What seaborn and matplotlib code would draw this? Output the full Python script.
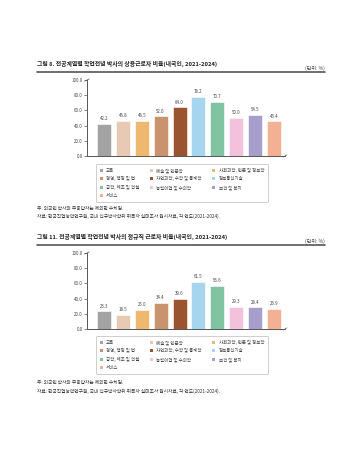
import matplotlib
matplotlib.use("Agg")
import matplotlib.pyplot as plt
import seaborn as sns
import pandas as pd
from matplotlib.patches import Patch

sns.set_style("white")
plt.rcParams['font.family'] = ['Noto Sans CJK KR', 'DejaVu Sans']

categories = ["교육", "예술 및 인문학", "사회과학, 언론 및 정보학", "경영, 행정 및 법",
              "자연과학, 수학 및 통계학", "정보통신기술", "공학, 제조 및 건설",
              "농림어업 및 수의학", "보건 및 복지", "서비스"]
colors = ["#a3a3a3", "#e8c9b3", "#eeb871", "#c9936f", "#9a5530",
          "#a6d5f0", "#80c4a2", "#f3c1dc", "#a89ecb", "#f3b093"]
values_fig8 = [42.2, 45.8, 46.5, 52.0, 64.0, 78.2, 70.7, 50.0, 54.5, 45.4]
values_fig11 = [23.3, 18.5, 25.0, 34.4, 39.6, 61.5, 56.6, 29.3, 28.4, 26.9]
yticks = [0, 20, 40, 60, 80, 100]

title8 = "그림 8. 전공계열별 학업전념 박사의 상용근로자 비율(내국인, 2021-2024)"
title11 = "그림 11. 전공계열별 학업전념 박사의 정규직 근로자 비율(내국인, 2021-2024)"
unit = "(단위: %)"
note = "주: 외국인 박사와 무응답자는 제외한 수치임."
source = "자료: 한국직업능력연구원, 국내 신규박사학위 취득자 실태조사 원시자료, 각 연도(2021-2024)."

W, H = 359, 454
fig = plt.figure(figsize=(W / 100, H / 100), dpi=100)
fig.patch.set_facecolor("white")

def fx(px):
    return px / W

def fy(py):
    return 1 - py / H

def panel(values, title, title_y, axis_top, axis_bottom, legend_top, note_y):
    fig.text(fx(37), fy(title_y), title, fontsize=4.2, fontweight="bold",
             va="center", ha="left", color="#222222")
    fig.text(fx(325), fy(title_y + 4), unit, fontsize=3.6, va="center",
             ha="right", color="#444444")
    fig.add_artist(plt.Line2D([fx(37), fx(325)], [fy(title_y + 8), fy(title_y + 8)],
                              color="#555555", lw=1.2, transform=fig.transFigure))

    ax = fig.add_axes([fx(87), fy(axis_bottom), fx(285) - fx(87),
                       fy(axis_top) - fy(axis_bottom)])
    df = pd.DataFrame({"cat": categories, "val": values})
    sns.barplot(data=df, x="cat", y="val", hue="cat", palette=colors,
                order=categories, hue_order=categories, dodge=False, saturation=1,
                width=0.74, legend=False, ax=ax, edgecolor="white", linewidth=0.4)
    for c in ax.containers:
        ax.bar_label(c, fmt="%.1f", fontsize=3.2, padding=2, color="#444444")
    ax.set_xlim(-0.9, 9.58)
    ax.set_ylim(0, 100)
    ax.set_yticks(yticks)
    ax.set_yticklabels([f"{t:.1f}" for t in yticks], fontsize=3.2, color="#444444")
    ax.tick_params(axis="y", length=2, width=0.5, pad=1, left=True, color="#555555")
    ax.set_xticks([])
    ax.set_xlabel("")
    ax.set_ylabel("")
    for s in ["top", "right"]:
        ax.spines[s].set_visible(False)
    for s in ["left", "bottom"]:
        ax.spines[s].set_color("#555555")
        ax.spines[s].set_linewidth(0.7)
    ax.plot([-0.012, 0.012], [0.985, 1.015], transform=ax.transAxes, color="#555555",
            lw=0.5, clip_on=False)
    ax.plot([0.99, 1.01], [-0.015, 0.015], transform=ax.transAxes, color="#555555",
            lw=0.5, clip_on=False)

    handles = [Patch(facecolor=c, edgecolor="none") for c in colors]
    order = [0, 3, 6, 9, 1, 4, 7, 2, 5, 8]
    leg = fig.legend([handles[i] for i in order], [categories[i] for i in order],
                     ncol=3, loc="upper center", bbox_to_anchor=(fx(182), fy(legend_top)),
                     bbox_transform=fig.transFigure, fontsize=3.2, frameon=True,
                     fancybox=True, handlelength=0.6, handleheight=0.6,
                     handletextpad=0.8, columnspacing=2.4, labelspacing=0.75,
                     borderpad=0.9, borderaxespad=0)
    leg.get_frame().set_edgecolor("#aaaaaa")
    leg.get_frame().set_linewidth(0.5)
    for t in leg.get_texts():
        t.set_color("#444444")

    fig.text(fx(37), fy(note_y), note, fontsize=3.4, va="center", ha="left",
             color="#333333")
    fig.text(fx(37), fy(note_y + 8), source, fontsize=3.4, va="center", ha="left",
             color="#333333")

panel(values_fig8, title8, 64, 80, 156, 164, 208)
panel(values_fig11, title11, 237, 253, 329, 336, 383)

fig.savefig("out.png", dpi=100, facecolor="white")
